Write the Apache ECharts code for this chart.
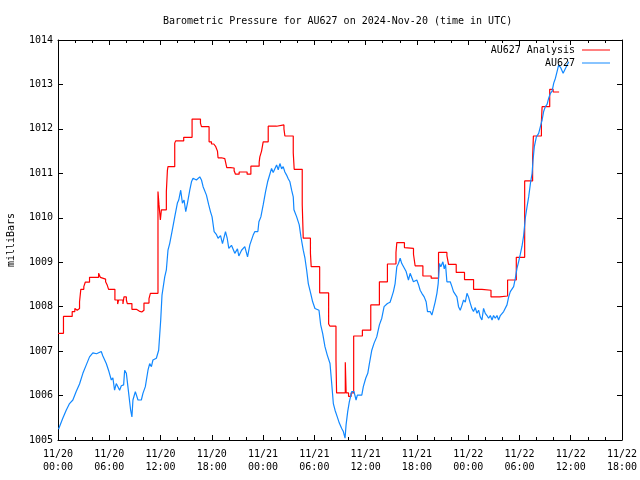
<!DOCTYPE html>
<html>
<head>
<meta charset="utf-8">
<script src="https://cdn.jsdelivr.net/npm/echarts@6/dist/echarts.min.js"></script>
<style>html,body{margin:0;padding:0;background:#fff}#c{width:640px;height:480px}</style>
</head>
<body>
<div id="c"></div>
<script>
// hours since 2024-11-20 00:00 UTC, pressure in mb
const analysisReadings = [[0.00,1007.40],[0.64,1007.78],[1.66,1007.89],[1.97,1007.96],[2.13,1007.92],[2.25,1007.96],[2.52,1008.11],[2.67,1008.39],[3.02,1008.45],[3.19,1008.55],[3.69,1008.66],[4.75,1008.75],[4.95,1008.66],[5.06,1008.62],[5.57,1008.56],[5.77,1008.48],[5.92,1008.39],[6.66,1008.15],[6.98,1008.06],[7.09,1008.15],[7.60,1008.06],[7.72,1008.22],[8.00,1008.15],[8.11,1008.07],[8.65,1007.94],[9.17,1007.90],[9.50,1007.88],[9.80,1007.92],[10.06,1008.08],[10.65,1008.18],[10.81,1008.30],[11.70,1010.59],[11.82,1010.29],[11.98,1009.95],[12.10,1010.18],[12.68,1010.59],[12.80,1011.06],[12.87,1011.15],[13.66,1011.68],[13.77,1011.73],[14.71,1011.81],[15.69,1012.22],[16.67,1012.13],[16.79,1012.05],[17.68,1011.71],[17.96,1011.66],[18.23,1011.62],[18.46,1011.60],[18.66,1011.50],[18.73,1011.35],[19.13,1011.33],[19.52,1011.35],[19.63,1011.30],[19.75,1011.13],[20.19,1011.12],[20.61,1011.06],[20.77,1010.98],[21.20,1011.03],[22.13,1010.98],[22.57,1011.16],[23.54,1011.25],[23.62,1011.37],[23.82,1011.50],[24.01,1011.71],[24.60,1012.06],[25.58,1012.09],[26.44,1012.00],[26.55,1011.84],[27.53,1011.46],[27.64,1011.09],[28.58,1010.30],[28.70,1009.54],[29.54,1009.20],[29.63,1008.90],[30.62,1008.31],[31.67,1007.61],[31.83,1007.56],[32.53,1006.80],[32.60,1006.06],[33.62,1006.75],[33.72,1006.06],[34.00,1005.98],[34.30,1006.06],[34.60,1007.34],[35.62,1007.47],[36.60,1008.04],[37.61,1008.56],[38.55,1008.96],[39.55,1009.22],[39.65,1009.44],[40.54,1009.33],[40.74,1009.31],[41.60,1009.18],[41.79,1008.92],[42.70,1008.69],[43.67,1008.64],[44.53,1009.22],[45.51,1009.15],[45.70,1008.95],[46.60,1008.77],[47.57,1008.61],[48.63,1008.39],[49.61,1008.37],[50.67,1008.22],[51.68,1008.24],[52.61,1008.60],[53.63,1009.11],[54.61,1010.83],[55.54,1011.32],[55.63,1011.84],[56.57,1012.16],[56.65,1012.50],[57.54,1012.89],[57.94,1012.83],[58.64,1012.83]];

const stationReadings = [[0.06,1005.24],[0.56,1005.49],[0.96,1005.67],[1.35,1005.82],[1.74,1005.90],[2.13,1006.09],[2.52,1006.26],[2.91,1006.50],[3.31,1006.69],[3.69,1006.87],[4.08,1006.96],[4.51,1006.94],[5.06,1006.99],[5.25,1006.89],[5.65,1006.72],[5.96,1006.54],[6.24,1006.35],[6.42,1006.40],[6.62,1006.12],[6.82,1006.27],[7.01,1006.20],[7.21,1006.12],[7.41,1006.22],[7.68,1006.24],[7.80,1006.57],[8.00,1006.50],[8.18,1006.20],[8.50,1005.67],[8.65,1005.52],[8.77,1005.90],[9.05,1006.09],[9.36,1005.90],[9.75,1005.90],[9.94,1006.05],[10.22,1006.20],[10.53,1006.57],[10.73,1006.72],[10.93,1006.65],[11.11,1006.80],[11.51,1006.84],[11.78,1007.02],[11.90,1007.00],[12.02,1007.70],[12.17,1008.26],[12.49,1008.67],[12.68,1008.83],[12.87,1009.27],[13.07,1009.42],[13.34,1009.69],[13.66,1010.02],[13.97,1010.33],[14.13,1010.40],[14.36,1010.62],[14.56,1010.33],[14.75,1010.40],[14.95,1010.14],[15.15,1010.33],[15.42,1010.62],[15.62,1010.81],[15.80,1010.89],[16.20,1010.85],[16.59,1010.92],[16.79,1010.85],[16.98,1010.70],[17.37,1010.51],[17.64,1010.29],[17.84,1010.14],[18.03,1010.02],[18.27,1009.69],[18.55,1009.62],[18.73,1009.54],[19.02,1009.60],[19.25,1009.42],[19.60,1009.69],[19.79,1009.55],[19.99,1009.31],[20.30,1009.38],[20.69,1009.20],[21.00,1009.30],[21.16,1009.14],[21.48,1009.27],[21.86,1009.35],[22.18,1009.12],[22.45,1009.39],[22.84,1009.61],[23.04,1009.69],[23.39,1009.69],[23.51,1009.91],[23.74,1010.02],[24.01,1010.29],[24.29,1010.59],[24.53,1010.81],[24.79,1010.98],[24.99,1011.11],[25.18,1011.02],[25.58,1011.19],[25.77,1011.08],[25.97,1011.22],[26.17,1011.10],[26.35,1011.15],[26.55,1011.03],[26.75,1010.96],[26.94,1010.88],[27.14,1010.81],[27.34,1010.62],[27.53,1010.47],[27.61,1010.18],[27.93,1010.02],[28.23,1009.84],[28.43,1009.57],[28.70,1009.27],[28.90,1009.09],[29.10,1008.82],[29.29,1008.52],[29.57,1008.30],[29.80,1008.11],[30.07,1007.96],[30.30,1008.00],[30.54,1007.92],[30.74,1007.59],[30.97,1007.40],[31.24,1007.10],[31.51,1006.91],[31.83,1006.72],[32.03,1006.27],[32.22,1005.82],[32.42,1005.67],[32.68,1005.52],[32.92,1005.38],[33.20,1005.26],[33.39,1005.19],[33.59,1005.04],[33.71,1005.34],[33.90,1005.64],[34.09,1005.86],[34.37,1006.09],[34.64,1006.09],[34.88,1005.90],[35.03,1006.01],[35.55,1006.01],[35.73,1006.20],[36.01,1006.39],[36.25,1006.50],[36.44,1006.72],[36.72,1007.02],[36.99,1007.18],[37.30,1007.32],[37.61,1007.59],[37.89,1007.74],[38.16,1008.00],[38.55,1008.07],[38.86,1008.10],[39.06,1008.22],[39.25,1008.34],[39.45,1008.52],[39.65,1008.90],[39.84,1008.97],[40.04,1009.09],[40.23,1008.97],[40.42,1008.94],[40.74,1008.79],[41.01,1008.60],[41.21,1008.75],[41.41,1008.65],[41.59,1008.56],[41.99,1008.60],[42.18,1008.50],[42.38,1008.37],[42.58,1008.30],[42.85,1008.22],[43.08,1008.11],[43.24,1007.89],[43.55,1007.89],[43.75,1007.81],[43.94,1007.95],[44.14,1008.11],[44.34,1008.30],[44.49,1008.52],[44.64,1008.97],[44.80,1008.90],[45.04,1009.01],[45.20,1008.85],[45.35,1008.95],[45.51,1008.56],[45.70,1008.55],[45.90,1008.56],[46.10,1008.45],[46.28,1008.34],[46.48,1008.30],[46.68,1008.22],[46.87,1008.00],[47.07,1007.92],[47.27,1008.03],[47.46,1008.15],[47.66,1008.10],[47.86,1008.30],[48.04,1008.22],[48.24,1008.08],[48.44,1007.96],[48.62,1007.89],[48.83,1007.98],[49.03,1007.85],[49.22,1007.92],[49.41,1007.77],[49.61,1007.70],[49.80,1007.96],[50.00,1007.85],[50.20,1007.80],[50.39,1007.74],[50.59,1007.80],[50.79,1007.70],[50.97,1007.80],[51.17,1007.74],[51.37,1007.80],[51.56,1007.70],[51.76,1007.80],[51.96,1007.77],[52.15,1007.89],[52.34,1007.92],[52.54,1008.04],[52.74,1008.22],[52.93,1008.34],[53.13,1008.30],[53.32,1008.45],[53.52,1008.64],[53.71,1008.86],[53.90,1009.01],[54.10,1009.18],[54.30,1009.36],[54.49,1009.60],[54.69,1010.00],[54.89,1010.25],[55.08,1010.47],[55.28,1010.77],[55.48,1011.00],[55.59,1011.30],[55.74,1011.60],[55.98,1011.82],[56.25,1011.90],[56.45,1012.05],[56.65,1012.20],[56.83,1012.39],[57.03,1012.50],[57.23,1012.55],[57.42,1012.69],[57.62,1012.80],[57.82,1012.85],[58.01,1013.03],[58.21,1013.14],[58.40,1013.29],[58.59,1013.44],[58.87,1013.36],[59.11,1013.25],[59.38,1013.36],[59.77,1013.51]];

const seriesNames = ['AU627 Analysis', 'AU627'];
const dayLabels = ['11/20', '11/21', '11/22', '11/23'];
const titleText = 'Barometric Pressure for AU627 on 2024-Nov-20 (time in UTC)';
const yAxisTitle = 'milliBars';

const FONT = 'DejaVu Sans Mono';
const fmtX = v => {
  const d = Math.floor(v / 24);
  const h = v - d * 24;
  return dayLabels[d] + '\n' + String(h).padStart(2, '0') + ':00';
};
const fmtY = v => String(v);
const tickCommon = { show: true, inside: true, length: 5, lineStyle: { color: '#000', width: 1 } };
const minorCommon = { show: true, splitNumber: 3, length: 3, lineStyle: { color: '#000', width: 1 } };
const lineCommon = { show: true, onZero: false, lineStyle: { color: '#000', width: 1 } };
const legendCommon = { right: 30, align: 'right', padding: 0, icon: 'rect', itemWidth: 28, itemHeight: 1,
  textStyle: { fontFamily: FONT, fontSize: 10, color: '#000', padding: [0, 2, 0, 0] } };

const chart = echarts.init(document.getElementById('c'), null, { renderer: 'canvas' });
chart.setOption({
  animation: false,
  backgroundColor: '#fff',
  title: {
    text: titleText, left: 158, top: 11,
    textStyle: { fontFamily: FONT, fontSize: 10, fontWeight: 'normal', color: '#000' }
  },
  legend: [
    Object.assign({ data: [seriesNames[0]], top: 45 }, legendCommon),
    Object.assign({ data: [seriesNames[1]], top: 58 }, legendCommon)
  ],
  grid: { left: 58, right: 18, top: 40, bottom: 40, containLabel: false, outerBoundsMode: 'none' },
  xAxis: [
    { type: 'value', min: 0, max: 66, interval: 6, position: 'bottom',
      axisLine: lineCommon, axisTick: tickCommon, minorTick: minorCommon, splitLine: { show: false },
      axisLabel: { formatter: fmtX, fontFamily: FONT, fontSize: 10, color: '#000', lineHeight: 13, margin: 8 } },
    { type: 'value', min: 0, max: 66, interval: 6, position: 'top',
      axisLine: lineCommon, axisTick: tickCommon, minorTick: minorCommon, splitLine: { show: false },
      axisLabel: { show: false } }
  ],
  yAxis: [
    { type: 'value', min: 1005, max: 1014, interval: 1, position: 'left',
      name: yAxisTitle, nameLocation: 'middle', nameGap: 42, nameRotate: 90,
      nameTextStyle: { fontFamily: FONT, fontSize: 10, color: '#000' },
      axisLine: lineCommon, axisTick: tickCommon, splitLine: { show: false },
      axisLabel: { formatter: fmtY, fontFamily: FONT, fontSize: 10, color: '#000', margin: 5 } },
    { type: 'value', min: 1005, max: 1014, interval: 1, position: 'right',
      axisLine: lineCommon, axisTick: tickCommon, splitLine: { show: false },
      axisLabel: { show: false } }
  ],
  series: [
    { name: seriesNames[0], type: 'line', step: 'end', data: analysisReadings,
      symbol: 'none', color: '#ff0000', lineStyle: { width: 1.2, color: '#ff0000' }, z: 2 },
    { name: seriesNames[1], type: 'line', data: stationReadings,
      symbol: 'none', color: '#1188ff', lineStyle: { width: 1.2, color: '#1188ff' }, z: 3 }
  ]
});
</script>
</body>
</html>
